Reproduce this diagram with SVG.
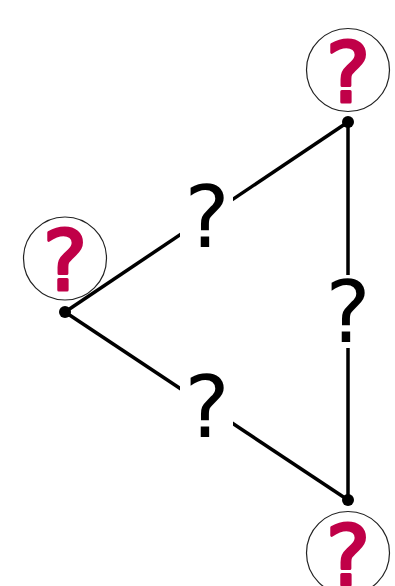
<svg xmlns="http://www.w3.org/2000/svg" width="395" height="586" viewBox="0 0 395 586">
<style>
.edge{stroke:#000;stroke-width:3.5;fill:none}
.lbg{fill:#fff}
.lbl{font-family:"DejaVu Sans",sans-serif;font-size:85px;fill:#000;text-anchor:middle}
.nc{fill:#fff;stroke:#222;stroke-width:1.2}
.nt{font-family:"DejaVu Sans",sans-serif;font-size:84px;fill:#c00048;stroke:#c00048;stroke-width:3;stroke-linejoin:round;text-anchor:middle}
.dot{fill:#000}
</style>
<rect width="395" height="586" fill="#fff"/>
<g id="connectors">
<line class="edge" x1="65" y1="312" x2="348" y2="122"/>
<line class="edge" x1="65" y1="312" x2="348" y2="500"/>
<line class="edge" x1="348" y1="122" x2="348" y2="500"/>
<rect class="lbg" x="180" y="181" width="53" height="72"/>
<text class="lbl" x="207" y="247">?</text>
<rect class="lbg" x="180" y="370" width="53" height="72"/>
<text class="lbl" x="207" y="437">?</text>
<rect class="lbg" x="322" y="275" width="52" height="73"/>
<text class="lbl" x="348" y="342">?</text>
</g>
<g id="node1">
<circle class="nc" cx="65" cy="258.5" r="41.5"/>
<text class="nt" x="65" y="290">?</text>
<circle class="dot" cx="65" cy="312" r="6"/>
</g>
<g id="node2">
<circle class="nc" cx="348" cy="70" r="41.5"/>
<text class="nt" x="348" y="101.5">?</text>
<circle class="dot" cx="348" cy="122" r="6"/>
</g>
<g id="node3">
<circle class="nc" cx="348" cy="553" r="41.5"/>
<text class="nt" x="348" y="584.5">?</text>
<circle class="dot" cx="348" cy="500" r="6"/>
</g>
</svg>
